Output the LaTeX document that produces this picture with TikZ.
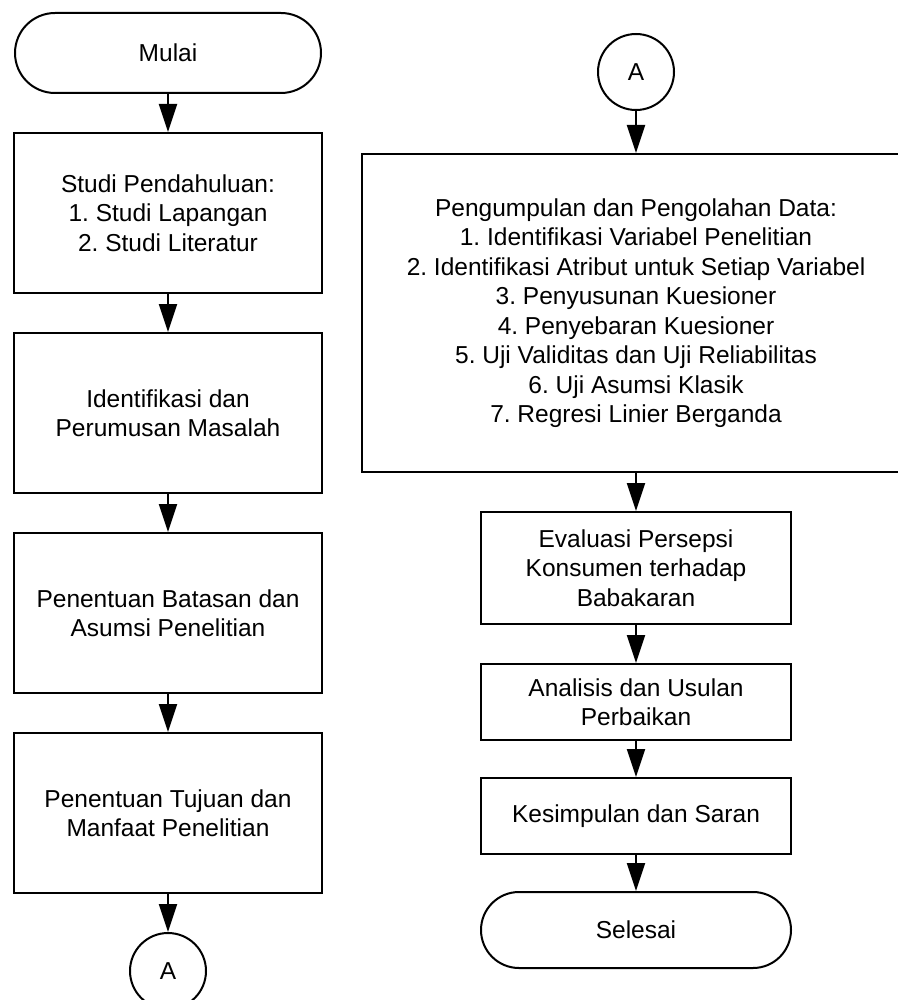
\documentclass[tikz,border=0pt]{standalone}
\usepackage{fontspec}
\setmainfont{Liberation Sans}
\usetikzlibrary{arrows.meta,positioning}
\frenchspacing

\begin{document}
\begin{tikzpicture}[x=1pt,y=1pt,node distance=19pt,
  every node/.style={draw,line width=1pt,align=center,inner sep=2pt,font=\fontsize{12.25}{14.75}\selectfont},
  proses/.style={minimum width=154pt,minimum height=80pt},
  terminal/.style={minimum width=153pt,minimum height=40pt,rounded corners=20pt},
  konektor/.style={circle,minimum size=38pt,inner sep=0pt},
  panah/.style={line width=1pt,-{Triangle[length=14pt,width=9pt]}}]

\useasboundingbox (0,0) rectangle (449,-500);
\clip (0,0) rectangle (449,-500);

% kolom kiri
\node[terminal] (mulai) at (84,-26.5) {Mulai};
\node[proses,below=of mulai] (studi) {Studi Pendahuluan:\\1. Studi Lapangan\\2. Studi Literatur};
\node[proses,below=of studi] (identifikasi) {Identifikasi dan\\Perumusan Masalah};
\node[proses,below=of identifikasi] (batasan) {Penentuan Batasan dan\\Asumsi Penelitian};
\node[proses,below=of batasan] (tujuan) {Penentuan Tujuan dan\\Manfaat Penelitian};
\node[konektor,below=of tujuan] (konA) {A};

% kolom kanan
\node[konektor] (konB) at (318,-36) {A};
\node[proses,minimum width=274pt,minimum height=159pt,below=21pt of konB] (data) {Pengumpulan dan Pengolahan Data:\\1. Identifikasi Variabel Penelitian\\2. Identifikasi Atribut untuk Setiap Variabel\\3. Penyusunan Kuesioner\\4. Penyebaran Kuesioner\\5. Uji Validitas dan Uji Reliabilitas\\6. Uji Asumsi Klasik\\7. Regresi Linier Berganda};
\node[proses,minimum width=155pt,minimum height=56pt,below=of data] (evaluasi) {Evaluasi Persepsi\\Konsumen terhadap\\Babakaran};
\node[proses,minimum width=155pt,minimum height=38pt,below=of evaluasi] (analisis) {Analisis dan Usulan\\Perbaikan};
\node[proses,minimum width=155pt,minimum height=38pt,below=18pt of analisis] (kesimpulan) {Kesimpulan dan Saran};
\node[terminal,minimum width=155pt,minimum height=38pt,rounded corners=19pt,below=18pt of kesimpulan] (selesai) {Selesai};

\draw[panah] (mulai) -- (studi);
\draw[panah] (studi) -- (identifikasi);
\draw[panah] (identifikasi) -- (batasan);
\draw[panah] (batasan) -- (tujuan);
\draw[panah] (tujuan) -- (konA);
\draw[panah] (konB) -- (data);
\draw[panah] (data) -- (evaluasi);
\draw[panah] (evaluasi) -- (analisis);
\draw[panah] (analisis) -- (kesimpulan);
\draw[panah] (kesimpulan) -- (selesai);
\end{tikzpicture}
\end{document}
